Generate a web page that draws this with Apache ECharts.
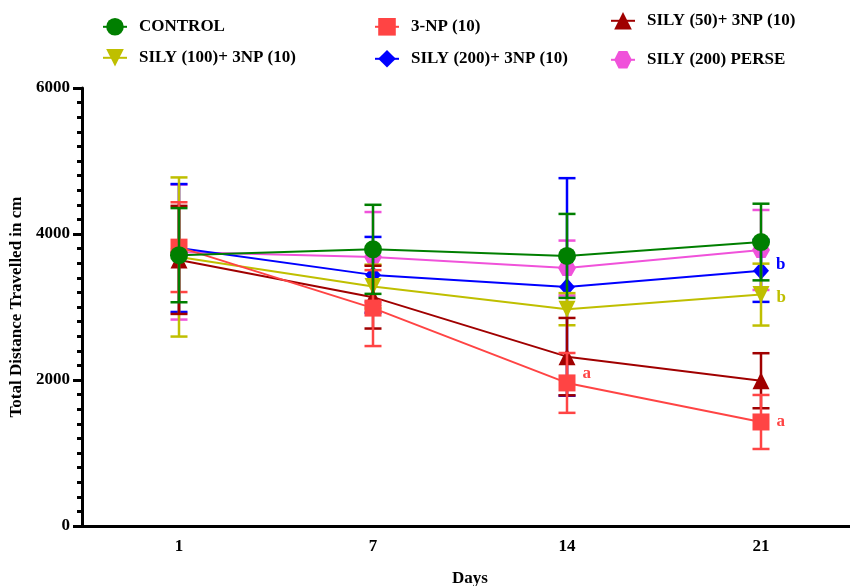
<!DOCTYPE html>
<html>
<head>
<meta charset="utf-8">
<script src="https://cdn.jsdelivr.net/npm/echarts@6/dist/echarts.min.js"></script>
<style>html,body{margin:0;padding:0;background:#fff}#c{width:850px;height:586px}</style>
</head>
<body>
<div id="c"></div>
<script>
// ---- data ----
const days = ['1', '7', '14', '21'];
const seriesNames = ['CONTROL', '3-NP (10)', 'SILY (50)+ 3NP (10)', 'SILY (100)+ 3NP (10)', 'SILY (200)+ 3NP (10)', 'SILY (200) PERSE'];
const controlMean = [3710, 3790, 3700, 3890];
const controlErr  = [645, 610, 575, 525];
const np3Mean = [3820, 2985, 1960, 1425];
const np3Err  = [615, 520, 410, 370];
const sily50Mean = [3645, 3135, 2320, 1990];
const sily50Err  = [740, 430, 530, 377];
const sily100Mean = [3685, 3280, 2970, 3170];
const sily100Err  = [1090, 300, 220, 424];
const sily200Mean = [3808, 3440, 3275, 3495];
const sily200Err  = [876, 520, 1490, 425];
const perseMean = [3753, 3685, 3534, 3781];
const perseErr  = [925, 616, 376, 548];
const controlSig = ['', '', '', ''];
const np3Sig = ['', '', 'a', 'a'];
const sily50Sig = ['', '', '', ''];
const sily100Sig = ['', '', '', 'b'];
const sily200Sig = ['', '', '', 'b'];
const perseSig = ['', '', '', ''];
const yTicks = [0, 2000, 4000, 6000];

// ---- styling ----
const FONT = '"Liberation Serif", "Times New Roman", serif';
const colors = ['#007F00', '#FF4444', '#A00000', '#BFBF00', '#0000FF', '#F052DA'];
const symbols = [
  'circle', 'rect', 'triangle',
  'path://M0,10 L-10,-7 L10,-7 Z',
  'diamond',
  'path://M-10,0 L-5,-8.66 L5,-8.66 L10,0 L5,8.66 L-5,8.66 Z'
];
const symbolSizes = [18, 17, 17, 17, [16, 18], [18, 16]];
const means = [controlMean, np3Mean, sily50Mean, sily100Mean, sily200Mean, perseMean];
const errs = [controlErr, np3Err, sily50Err, sily100Err, sily200Err, perseErr];
const sigs = [controlSig, np3Sig, sily50Sig, sily100Sig, sily200Sig, perseSig];
const labelOffsets = [
  [[0,0],[0,0],[0,0],[0,0]],
  [[0,0],[0,0],[0,-9],[0,0]],
  [[0,0],[0,0],[0,0],[0,0]],
  [[0,0],[0,0],[0,0],[0,3]],
  [[0,0],[0,0],[0,0],[0,-6]],
  [[0,0],[0,0],[0,0],[0,0]]
];

const series = [];
means.forEach((m, s) => {
  const z = 20 - 2 * s;
  // error bars
  series.push({
    type: 'custom',
    name: seriesNames[s] + ' err',
    z: z,
    silent: true,
    data: m.map((v, i) => [i, v - errs[s][i], v + errs[s][i]]),
    renderItem: function (params, api) {
      const lo = api.coord([api.value(0), api.value(1)]);
      const hi = api.coord([api.value(0), api.value(2)]);
      const w = 8.5;
      const st = { stroke: colors[s], lineWidth: 2.5 };
      return {
        type: 'group',
        children: [
          { type: 'line', shape: { x1: lo[0], y1: lo[1], x2: hi[0], y2: hi[1] }, style: st },
          { type: 'line', shape: { x1: lo[0] - w, y1: lo[1], x2: lo[0] + w, y2: lo[1] }, style: st },
          { type: 'line', shape: { x1: hi[0] - w, y1: hi[1], x2: hi[0] + w, y2: hi[1] }, style: st }
        ]
      };
    }
  });
  // line + markers
  series.push({
    type: 'line',
    name: seriesNames[s],
    z: z + 1,
    symbol: symbols[s],
    symbolSize: symbolSizes[s],
    showAllSymbol: true,
    color: colors[s],
    lineStyle: { color: colors[s], width: 2 },
    itemStyle: { color: colors[s], opacity: 1 },
    emphasis: { disabled: true },
    data: m.map((v, i) => ({
      value: v,
      label: {
        show: !!sigs[s][i],
        formatter: sigs[s][i],
        position: 'right',
        distance: 7,
        offset: labelOffsets[s][i],
        color: colors[s],
        fontFamily: FONT,
        fontWeight: 'bold',
        fontSize: 17
      }
    }))
  });
});

// legends: one per item to reproduce the 3-column layout
const legendPos = [
  [97, 13], [369, 13], [605, 7],
  [97, 44], [369, 45], [605, 46]
];
const legends = seriesNames.map((n, i) => ({
  data: [n],
  left: legendPos[i][0],
  top: legendPos[i][1],
  itemWidth: 24,
  itemHeight: 22,
  itemGap: 0,
  selectedMode: false,
  textStyle: { fontFamily: FONT, fontWeight: 'bold', fontSize: 17, color: '#000', padding: [0, 0, 0, 7] }
}));

const chart = echarts.init(document.getElementById('c'), null, { renderer: 'canvas' });
chart.setOption({
  animation: false,
  backgroundColor: '#fff',
  legend: legends,
  grid: { left: 82, right: -8, top: 88, bottom: 60, containLabel: false, outerBoundsMode: 'none' },
  xAxis: {
    type: 'category',
    data: days,
    boundaryGap: true,
    name: 'Days',
    nameLocation: 'middle',
    nameGap: 44,
    nameTextStyle: { fontFamily: FONT, fontWeight: 'bold', fontSize: 17, color: '#000' },
    axisLine: { lineStyle: { color: '#000', width: 3 } },
    axisTick: { alignWithLabel: true, length: 7, lineStyle: { color: '#000', width: 3 } },
    axisLabel: { fontFamily: FONT, fontWeight: 'bold', fontSize: 17, color: '#000', margin: 12 },
    splitLine: { show: false }
  },
  yAxis: {
    type: 'value',
    min: yTicks[0],
    max: yTicks[yTicks.length - 1],
    interval: yTicks[1] - yTicks[0],
    name: 'Total Distance Travelled in cm',
    nameLocation: 'middle',
    nameGap: 53,
    nameTextStyle: { fontFamily: FONT, fontWeight: 'bold', fontSize: 17, color: '#000' },
    axisLine: { show: true, lineStyle: { color: '#000', width: 3 } },
    axisTick: { show: true, length: 9, lineStyle: { color: '#000', width: 3 } },
    minorTick: { show: true, splitNumber: 10, length: 5, lineStyle: { color: '#000', width: 3 } },
    axisLabel: { fontFamily: FONT, fontWeight: 'bold', fontSize: 17, color: '#000', margin: 12, formatter: v => String(v) },
    splitLine: { show: false }
  },
  series: series
});
</script>
</body>
</html>
